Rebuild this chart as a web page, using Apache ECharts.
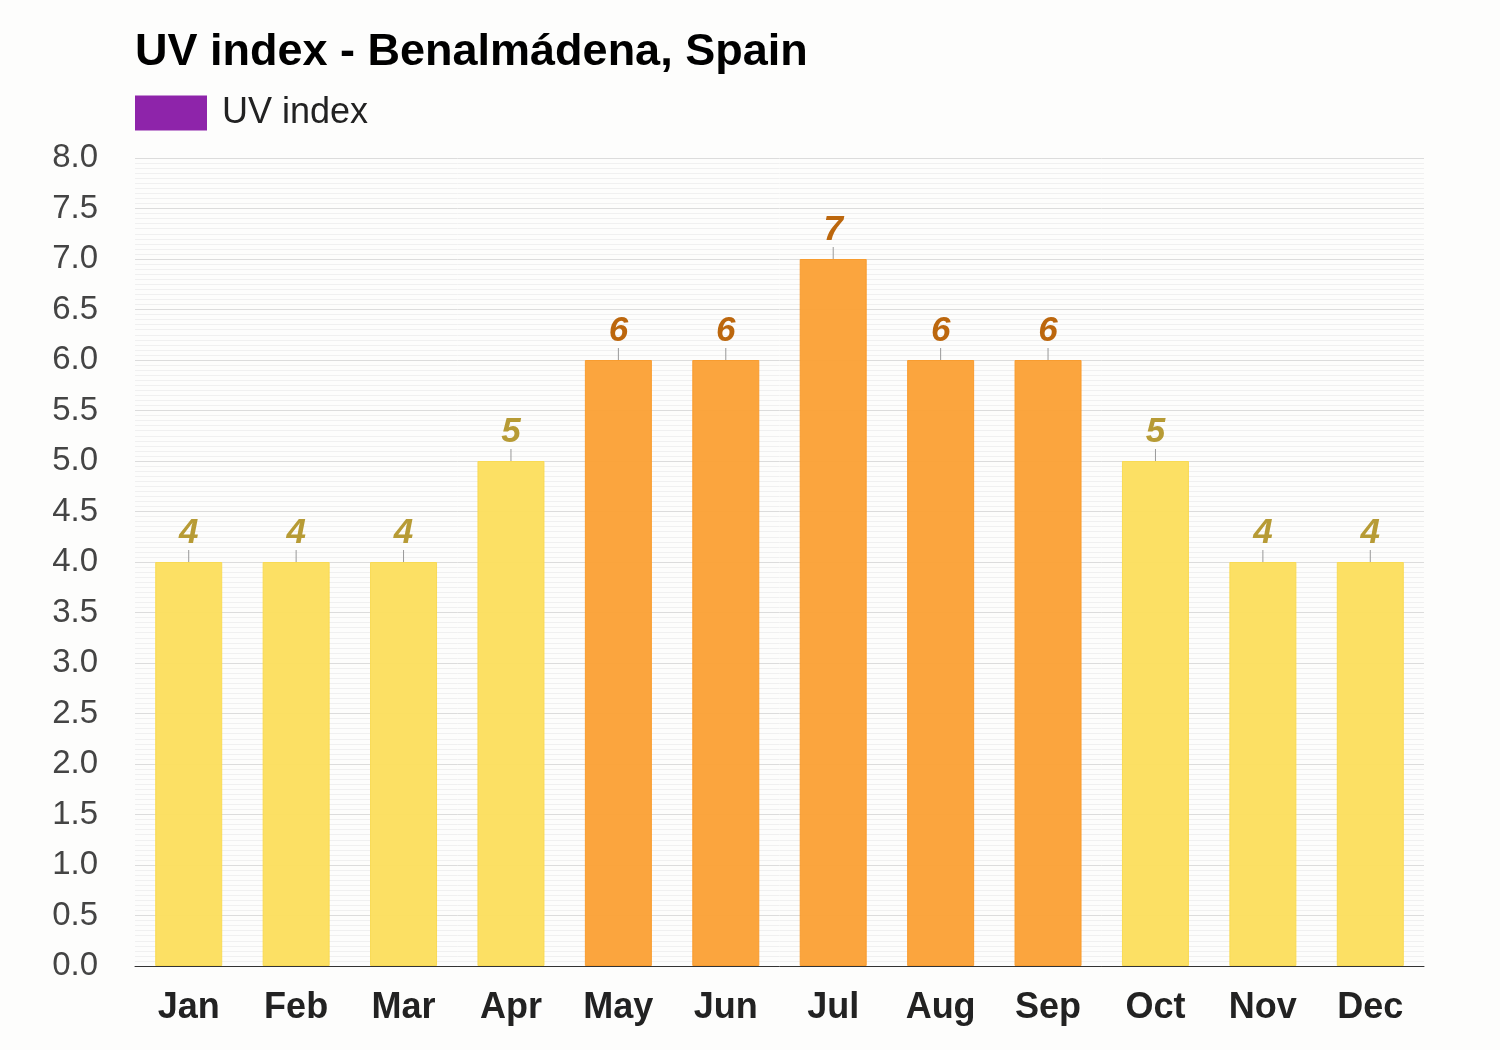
<!DOCTYPE html>
<html>
<head>
<meta charset="utf-8">
<script src="https://cdn.jsdelivr.net/npm/echarts@6/dist/echarts.min.js"></script>
<style>
html,body{margin:0;padding:0;background:#fdfdfc;}
#c{width:1500px;height:1050px;}
</style>
</head>
<body>
<div id="c"></div>
<script>
const months = ['Jan','Feb','Mar','Apr','May','Jun','Jul','Aug','Sep','Oct','Nov','Dec'];
const uvValues = [4,4,4,5,6,6,7,6,6,5,4,4];
const seriesName = 'UV index';
const titleText = 'UV index - Benalmádena, Spain';

const FONT = "'Liberation Sans', Arial, Helvetica, sans-serif";
function barColor(v){ return v >= 6 ? '#fba034' : '#fcde5c'; }
function borderColor(v){ return v >= 6 ? '#f99a2a' : '#f9d950'; }
function labelColor(v){ return v >= 6 ? '#b85f00' : '#b3962a'; }

const chart = echarts.init(document.getElementById('c'));
chart.setOption({
  backgroundColor: '#fdfdfc',
  animation: false,
  title: {
    text: titleText,
    left: 130, top: 25,
    textStyle: {fontFamily: FONT, fontSize: 45, fontWeight: 'bold', color: '#000'}
  },
  legend: {
    data: [seriesName],
    left: 130, top: 90,
    itemWidth: 72, itemHeight: 35, itemGap: 15,
    icon: 'rect',
    textStyle: {fontFamily: FONT, fontSize: 36, color: '#222', padding: [0, 0, 0, 10]}
  },
  grid: {left: 135, right: 76, top: 158, bottom: 84, containLabel: false},
  xAxis: {
    type: 'category',
    data: months,
    axisLine: {lineStyle: {color: '#333', width: 1}},
    axisTick: {show: false},
    axisLabel: {fontFamily: FONT, fontSize: 36, fontWeight: 'bold', color: '#222', margin: 24}
  },
  yAxis: {
    type: 'value',
    min: 0, max: 8, interval: 0.5,
    axisLine: {show: false},
    axisTick: {show: false},
    axisLabel: {fontFamily: FONT, fontSize: 33, color: '#444', margin: 37,
      formatter: v => v.toFixed(1)},
    splitLine: {lineStyle: {color: '#dcdcdc', width: 1}},
    minorTick: {show: false, splitNumber: 10},
    minorSplitLine: {show: true, lineStyle: {color: '#f0f0f0', width: 1}}
  },
  series: [
    {
      name: seriesName,
      type: 'bar',
      barWidth: 67,
      itemStyle: {color: '#8e24aa'},
      data: uvValues.map(v => ({
        value: v,
        itemStyle: {color: barColor(v), borderColor: borderColor(v), borderWidth: 1, opacity: 0.95},
        label: {color: labelColor(v)}
      })),
      label: {
        show: true, position: 'top', distance: 11,
        fontFamily: FONT, fontSize: 35, fontWeight: 'bold', fontStyle: 'italic'
      },
      z: 2
    },
    {
      name: 'ticks',
      type: 'custom',
      silent: true,
      data: uvValues.map((v, i) => [i, v]),
      renderItem: function(params, api){
        const p = api.coord([api.value(0), api.value(1)]);
        return {
          type: 'line',
          shape: {x1: p[0], y1: p[1] - 12, x2: p[0], y2: p[1]},
          style: {stroke: '#999', lineWidth: 1}
        };
      },
      z: 3
    }
  ]
});
</script>
</body>
</html>
